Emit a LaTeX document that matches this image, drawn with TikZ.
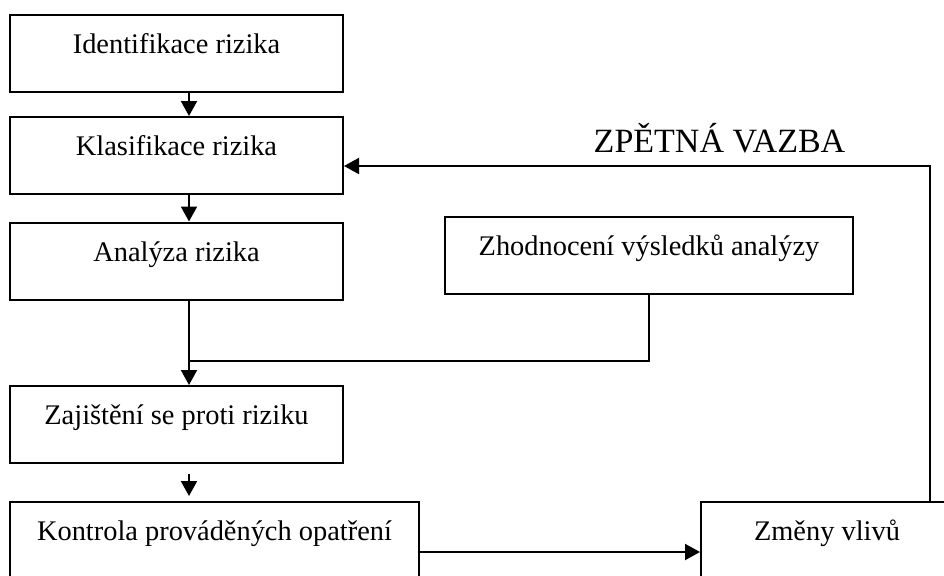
\documentclass[tikz,border=0pt]{standalone}
\usepackage{fontspec}
\setmainfont{Liberation Serif}
\usetikzlibrary{arrows.meta,positioning,calc}
\tikzset{
  block/.style = {draw, line width=1pt, rectangle, minimum height=38.5pt,
                  text height=9pt, text depth=9pt, inner sep=0pt, align=center},
  flow/.style  = {-{Triangle[length=7.5pt,width=8pt]}, line width=1pt},
  link/.style  = {line width=1pt},
}
\begin{document}
\begin{tikzpicture}[x=0.5pt,y=-0.5pt,font=\fontsize{14.2}{17}\selectfont]
\useasboundingbox (0,0) rectangle (944,575);
% left column
\node[block,minimum width=166.5pt] (ident) at (176.5,53.5) {Identifikace rizika};
\node[block,minimum width=166.5pt] (klasif) at (176.5,155.5) {Klasifikace rizika};
\node[block,minimum width=166.5pt] (analyza) at (176.5,261) {Analýza rizika};
\node[block,minimum width=166.5pt] (zajist) at (176.5,424.5) {Zajištění se proti riziku};
\node[block,minimum width=204.5pt] (kontrola) at (214.5,540.5) {Kontrola prováděných opatření};
% right side
\node[block,minimum width=204pt] (zhodn) at (649,255.5) {Zhodnocení výsledků analýzy};
\node[block,minimum width=126pt] (zmeny) at (827,540.5) {Změny vlivů};
\node[anchor=base,font=\fontsize{17}{20}\selectfont] (zpetna) at (719.5,152) {ZPĚTNÁ VAZBA};
% connectors
\coordinate (spine) at (189,0);
\coordinate (join) at (189,361);
\coordinate (fbtop) at (930,166);
\coordinate (outrow) at (0,552);
\draw[flow] (ident.south -| spine) -- (klasif.north -| spine);
\draw[flow] (klasif.south -| spine) -- (analyza.north -| spine);
\draw[flow] (analyza.south -| spine) -- (zajist.north -| spine);
\draw[link] (zhodn.south) |- (join);
\draw[flow,shorten <=5pt,shorten >=2.5pt] (zajist.south -| spine) -- (kontrola.north -| spine);
\draw[flow] (kontrola.east |- outrow) -- (zmeny.west |- outrow);
\draw[flow] (zmeny.north -| fbtop) -- (fbtop) -- (klasif.east |- fbtop);
\end{tikzpicture}
\end{document}
